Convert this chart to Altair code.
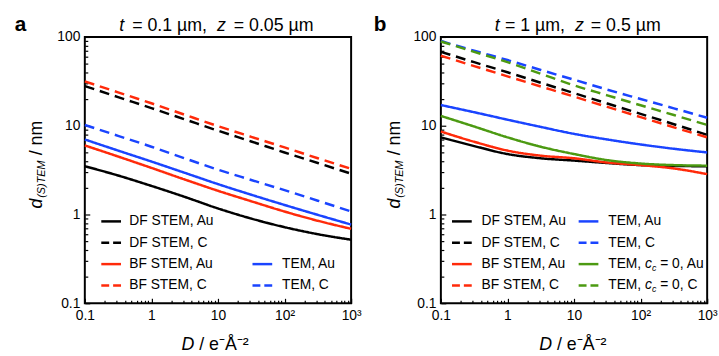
import altair as alt
import pandas as pd

FONT = "Liberation Sans"
RED = "#ff2a0a"
BLUE = "#1a44ff"
GREEN = "#4c9a12"
SP = "\u00a0"

# dose values (x) shared by all curves
D = [0.1, 0.316, 1, 3.16, 10, 31.6, 100, 316, 1000]

# ---- panel a : t = 0.1 um, z = 0.05 um ----
a_series = ["DF STEM, Au", "DF STEM, C", "BF STEM, Au", "BF STEM, C", "TEM, Au", "TEM, C"]
a_df_au = [3.5, 2.75, 2.1, 1.58, 1.17, 0.9, 0.72, 0.6, 0.52]
a_df_c = [28, 21.0, 15.8, 11.8, 8.8, 6.65, 5.0, 3.8, 2.88]
a_bf_au = [6.0, 4.5, 3.35, 2.48, 1.85, 1.41, 1.08, 0.85, 0.69]
a_bf_c = [31.6, 23.8, 17.9, 13.3, 9.9, 7.5, 5.7, 4.3, 3.27]
a_tem_au = [7.0, 5.25, 3.95, 2.95, 2.2, 1.67, 1.28, 0.99, 0.77]
a_tem_c = [10.2, 7.7, 5.8, 4.3, 3.2, 2.45, 1.88, 1.43, 1.08]

# ---- panel b : t = 1 um, z = 0.5 um ----
b_series = a_series + ["TEM, cc=0, Au", "TEM, cc=0, C"]
b_df_au = [7.4, 5.9, 4.8, 4.3, 4.05, 3.8, 3.6, 3.52, 3.5]
b_df_c = [68, 52, 40, 30.5, 23.3, 17.8, 13.6, 10.4, 7.9]
b_bf_au = [8.6, 6.6, 5.25, 4.6, 4.3, 3.85, 3.6, 3.3, 2.85]
b_bf_c = [61.5, 47, 36, 27.7, 21.3, 16.3, 12.5, 9.6, 7.4]
b_tem_au = [17.1, 14.2, 11.7, 9.7, 8.1, 7.0, 6.15, 5.5, 5.0]
b_tem_c = [90, 70, 55, 42.5, 33, 25.5, 20, 15.7, 12.3]
b_tem0_au = [12.9, 9.8, 7.4, 5.8, 4.8, 4.1, 3.75, 3.6, 3.55]
b_tem0_c = [89, 68, 52, 38.5, 28.5, 22, 17, 13.2, 10.2]

x_major = [0.1, 1, 10, 100, 1000]
y_major = [0.1, 1, 10, 100]
x_minor = [m * 10.0 ** e for e in range(-1, 3) for m in range(2, 10)]
y_minor = [m * 10.0 ** e for e in range(-1, 2) for m in range(2, 10)]


def long_df(series, arrays):
    rows = []
    for s, arr in zip(series, arrays):
        for x, y in zip(D, arr):
            rows.append({"series": s, "D": x, "d": y})
    return pd.DataFrame(rows)


a_data = long_df(a_series, [a_df_au, a_df_c, a_bf_au, a_bf_c, a_tem_au, a_tem_c])
b_data = long_df(b_series, [b_df_au, b_df_c, b_bf_au, b_bf_c, b_tem_au, b_tem_c, b_tem0_au, b_tem0_c])

col_of = {"DF": "black", "BF": RED, "TE": BLUE}
def color_for(s):
    if "cc=0" in s:
        return GREEN
    return col_of[s[:2]]

SOLID = [1, 0]
DASH = [10, 6]
def dash_for(s):
    return DASH if s.endswith(", C") else SOLID

ALL = b_series
LW = 2.5
xs = alt.Scale(type="log", domain=[0.1, 1000], nice=False)
ys = alt.Scale(type="log", domain=[0.1, 100], nice=False)

one = pd.DataFrame({"k": [0]})
corner = pd.DataFrame({"D": [0.1], "d": [0.1]})


def txt(s, x, y, size=14, style="normal", weight="normal", angle=0, baseline="alphabetic"):
    return alt.Chart(one).mark_text(
        text=s, font=FONT, fontSize=size, fontStyle=style, fontWeight=weight,
        angle=angle, align="left", baseline=baseline, color="black"
    ).encode(x=alt.value(x), y=alt.value(y))


def seg(x1, x2, y, color, dashed):
    if dashed:
        m = alt.Chart(one).mark_rule(color=color, strokeWidth=LW, strokeDash=[8, 4])
    else:
        m = alt.Chart(one).mark_rule(color=color, strokeWidth=LW)
    return m.encode(x=alt.value(x1), x2=alt.value(x2), y=alt.value(y))


def tick_layer(xv, yv, size):
    return alt.Chart(corner).mark_point(opacity=0).encode(
        x=alt.X("D:Q", scale=xs, axis=alt.Axis(
            orient="bottom", offset=-size, values=xv, ticks=True, tickSize=size,
            tickWidth=1.2, tickColor="black", labels=False, domain=False,
            grid=False, title=None)),
        y=alt.Y("d:Q", scale=ys, axis=alt.Axis(
            orient="left", offset=-size, values=yv, ticks=True, tickSize=size,
            tickWidth=1.2, tickColor="black", labels=False, domain=False,
            grid=False, title=None)),
    )


ROWS = [187, 208.7, 230.3, 252]


def panel(data, letter, letter_x, title_pieces, ytx, xtx, leg_layers):
    lines = alt.Chart(data).mark_line(strokeWidth=LW, interpolate="monotone").encode(
        x=alt.X("D:Q", scale=xs, axis=alt.Axis(
            orient="bottom", values=x_major, ticks=False, tickSize=0, domain=False,
            grid=False, title=None, labelFont=FONT, labelFontSize=14,
            labelColor="black", labelPadding=5, labelOverlap=False, labelFlush=False,
            labelExpr="datum.value == 100 ? '10\u00b2' : datum.value == 1000 ? '10\u00b3' : format(datum.value, '~g')")),
        y=alt.Y("d:Q", scale=ys, axis=alt.Axis(
            orient="left", values=y_major, ticks=False, tickSize=0, domain=False,
            grid=False, title=None, labelFont=FONT, labelFontSize=14,
            labelColor="black", labelPadding=5, labelOverlap=False, labelFlush=False,
            labelExpr="format(datum.value, '~g')")),
        color=alt.Color("series:N", scale=alt.Scale(domain=ALL, range=[color_for(s) for s in ALL]), legend=None),
        strokeDash=alt.StrokeDash("series:N", scale=alt.Scale(domain=ALL, range=[dash_for(s) for s in ALL]), legend=None),
    )
    layers = [lines, tick_layer(x_major, y_major, 5), tick_layer(x_minor, y_minor, 3)]
    layers.append(txt(letter, letter_x, -6, size=21, weight="bold"))
    for s, x, it in title_pieces:
        layers.append(txt(s, x, -6, size=18, style="italic" if it else "normal"))
    # y axis title (rotated)
    layers.append(txt("d", ytx, 174, size=18, style="italic", angle=270))
    layers.append(txt("(S)TEM", ytx + 3, 163, size=11, style="italic", angle=270))
    layers.append(txt("/" + SP + "nm", ytx, 120, size=18, angle=270))
    # x axis title
    layers.append(txt("D", xtx, 317, size=18, style="italic"))
    layers.append(txt("/" + SP + "e\u207bÅ\u207b\u00b2", xtx + 18, 317, size=18))
    layers += leg_layers
    return alt.layer(*layers).resolve_axis(x="independent", y="independent").properties(width=270, height=270)


def legend_entry(label, lx1, tx, row, color, dashed):
    return [seg(lx1, lx1 + 20, ROWS[row], color, dashed),
            txt(label, tx, ROWS[row], size=14, baseline="middle")]


def cc_entry(tail, lx1, tx, row, color, dashed):
    y = ROWS[row]
    return [seg(lx1, lx1 + 20, y, color, dashed),
            txt("TEM,", tx, y, size=14, baseline="middle"),
            txt("c", tx + 37.3, y, size=14, style="italic", baseline="middle"),
            txt("c", tx + 44.3, y + 4, size=9, style="italic", baseline="middle"),
            txt("=" + SP + tail, tx + 52.7, y, size=14, baseline="middle")]


a_leg = []
a_leg += legend_entry("DF STEM, Au", 16.7, 45, 0, "black", False)
a_leg += legend_entry("DF STEM, C", 16.7, 45, 1, "black", True)
a_leg += legend_entry("BF STEM, Au", 16.7, 45, 2, RED, False)
a_leg += legend_entry("BF STEM, C", 16.7, 45, 3, RED, True)
a_leg += legend_entry("TEM, Au", 170, 200, 2, BLUE, False)
a_leg += legend_entry("TEM, C", 170, 200, 3, BLUE, True)

b_leg = []
b_leg += legend_entry("DF STEM, Au", 11.3, 41.3, 0, "black", False)
b_leg += legend_entry("DF STEM, C", 11.3, 41.3, 1, "black", True)
b_leg += legend_entry("BF STEM, Au", 11.3, 41.3, 2, RED, False)
b_leg += legend_entry("BF STEM, C", 11.3, 41.3, 3, RED, True)
b_leg += legend_entry("TEM, Au", 139.7, 169.7, 0, BLUE, False)
b_leg += legend_entry("TEM, C", 139.7, 169.7, 1, BLUE, True)
b_leg += cc_entry("0, Au", 139.7, 169.7, 2, GREEN, False)
b_leg += cc_entry("0, C", 139.7, 169.7, 3, GREEN, True)

pa = panel(a_data, "a", -71,
           [("t", 35, True), ("=" + SP + "0.1" + SP + "µm,", 48, False),
            ("z", 134, True), ("=" + SP + "0.05" + SP + "µm", 151, False)],
           -43, 98, a_leg)
pb = panel(b_data, "b", -68,
           [("t", 54.7, True), ("=" + SP + "1" + SP + "µm,", 65, False),
            ("z", 136, True), ("=" + SP + "0.5" + SP + "µm", 152, False)],
           -41, 99.7, b_leg)

chart = alt.hconcat(pa, pb, spacing=91, bounds="flush").properties(
    padding={"left": 14, "top": 11, "right": 0, "bottom": 0}
).configure_view(stroke="black", strokeWidth=2).configure_axis(grid=False)

chart.save("out.html", embed_options={"renderer": "svg", "actions": False})
